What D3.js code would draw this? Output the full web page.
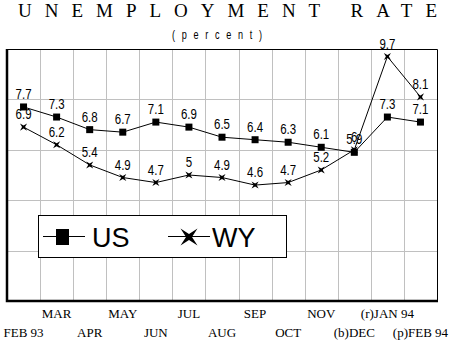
<!DOCTYPE html>
<html>
<head>
<meta charset="utf-8">
<script src="https://cdn.jsdelivr.net/npm/d3@7"></script>
<style>
  body { margin: 0; background: #fff; }
  svg { display: block; }
</style>
</head>
<body>
<svg id="chart" width="457" height="343"></svg>
<script>
"use strict";

// data
const months = ["FEB 93", "MAR", "APR", "MAY", "JUN", "JUL", "AUG", "SEP", "OCT", "NOV", "(b)DEC", "(r)JAN 94", "(p)FEB 94"];
const us = [7.7, 7.3, 6.8, 6.7, 7.1, 6.9, 6.5, 6.4, 6.3, 6.1, 5.9, 7.3, 7.1];
const wy = [6.9, 6.2, 5.4, 4.9, 4.7, 5, 4.9, 4.6, 4.7, 5.2, 6, 9.7, 8.1];
const yTicks = [2, 4, 6, 8];

const svg = d3.select("#chart");

const plotL = 7, plotR = 437, plotT = 49, plotB = 301;

let x = d3.scaleBand().domain(months).range([plotL, plotR]);
let y = d3.scaleLinear().domain([0, 10]).range([plotB, plotT]);
let cx = i => x(months[i]) + x.bandwidth() / 2;

// 4 point star, tips on the diagonals
function star(r, ri) {
  let pts = [];
  for (let i = 0; i < 8; i++) {
    let a = Math.PI / 4 + i * Math.PI / 4;
    let rr = i % 2 === 0 ? r : ri;
    pts.push([rr * Math.cos(a), rr * Math.sin(a)]);
  }
  return "M" + pts.map(p => p.join(",")).join("L") + "Z";
}

// title
svg.append("text")
  .attr("x", 18).attr("y", 17)
  .attr("textLength", 419)
  .attr("lengthAdjust", "spacing")
  .attr("font-family", "Liberation Serif")
  .attr("font-size", 19)
  .text("UNEMPLOYMENT RATE");

// narrow, spaced subtitle
svg.append("text")
  .attr("transform", "translate(172,39) scale(0.7,1)")
  .attr("textLength", 90 / 0.7)
  .attr("lengthAdjust", "spacing")
  .attr("font-family", "Liberation Sans")
  .attr("font-size", 13)
  .text("(percent)");

// grid
let grid = svg.append("g").attr("stroke", "#c0c0c0").attr("stroke-width", 1);
grid.selectAll(".gy").data(yTicks).join("line")
  .attr("x1", plotL).attr("x2", plotR)
  .attr("y1", d => Math.round(y(d)) + 0.5).attr("y2", d => Math.round(y(d)) + 0.5);
grid.selectAll(".gx").data(months.slice(1)).join("line")
  .attr("x1", d => Math.round(x(d)) + 0.5).attr("x2", d => Math.round(x(d)) + 0.5)
  .attr("y1", plotT).attr("y2", plotB);

// frame
svg.append("path")
  .attr("d", `M${plotL},${plotT + 0.5}H${plotR + 0.5}V${plotB}`)
  .attr("fill", "none").attr("stroke", "#000").attr("stroke-width", 1);
svg.append("path")
  .attr("d", `M${plotL},${plotT}V${plotB}H${plotR + 1}`)
  .attr("fill", "none").attr("stroke", "#000").attr("stroke-width", 2.5);

// month labels, alternating rows
svg.append("g").selectAll("text").data(months).join("text")
  .attr("x", (d, i) => cx(i))
  .attr("y", (d, i) => i % 2 === 0 ? 337 : 318)
  .attr("text-anchor", "middle")
  .attr("font-family", "Liberation Serif")
  .attr("font-size", 13)
  .text(d => d);

let line = d3.line()
  .x((d, i) => cx(i))
  .y(d => y(d));

function series(vals, marker) {
  let g = svg.append("g");
  g.append("path").attr("d", line(vals))
    .attr("fill", "none").attr("stroke", "#000").attr("stroke-width", 1);
  let pts = g.selectAll("g.pt").data(vals).join("g")
    .attr("transform", (d, i) => `translate(${cx(i)},${y(d)})`);
  marker(pts);
  g.selectAll("text").data(vals).join("text")
    .attr("transform", (d, i) => `translate(${cx(i)},${y(d) - 8}) scale(0.82,1)`)
    .attr("text-anchor", "middle")
    .attr("font-family", "Liberation Sans")
    .attr("font-size", 14)
    .text(d => d);
}

series(us, sel => sel.append("rect")
  .attr("x", -3.5).attr("y", -3.5).attr("width", 7).attr("height", 7).attr("fill", "#000"));
series(wy, sel => sel.append("path").attr("d", star(5, 1.5)).attr("fill", "#000"));

// legend
let lg = svg.append("g");
lg.append("rect").attr("x", 38.5).attr("y", 215.5).attr("width", 248).attr("height", 42)
  .attr("fill", "#fff").attr("stroke", "#000");
lg.append("line").attr("x1", 43).attr("x2", 85).attr("y1", 236.5).attr("y2", 236.5).attr("stroke", "#000");
lg.append("rect").attr("x", 56).attr("y", 229).attr("width", 13).attr("height", 16).attr("fill", "#000");
lg.append("text").attr("x", 92).attr("y", 247)
  .attr("font-family", "Liberation Sans").attr("font-size", 27).text("US");
lg.append("line").attr("x1", 168).attr("x2", 210).attr("y1", 236.5).attr("y2", 236.5).attr("stroke", "#000");
lg.append("path").attr("transform", "translate(189,237)").attr("d", star(12, 3)).attr("fill", "#000");
lg.append("text").attr("x", 212).attr("y", 247)
  .attr("font-family", "Liberation Sans").attr("font-size", 27).text("WY");
</script>
</body>
</html>
